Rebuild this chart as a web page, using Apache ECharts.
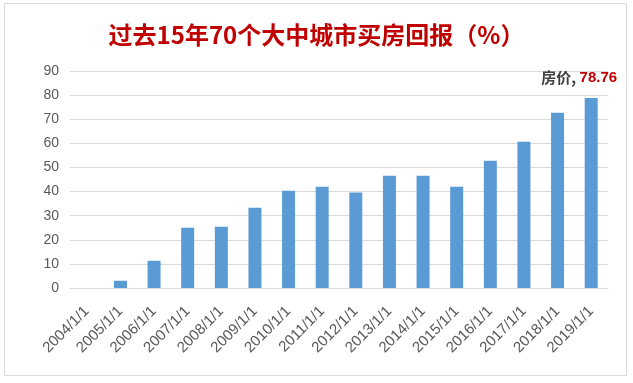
<!DOCTYPE html>
<html><head><meta charset="utf-8">
<script src="https://cdn.jsdelivr.net/npm/echarts@6/dist/echarts.min.js"></script>
<style>html,body{margin:0;padding:0;background:#fff}#c{width:633px;height:383px}</style>
</head><body><div id="c"></div>
<script>
const categories = ['2004/1/1','2005/1/1','2006/1/1','2007/1/1','2008/1/1','2009/1/1','2010/1/1','2011/1/1','2012/1/1','2013/1/1','2014/1/1','2015/1/1','2016/1/1','2017/1/1','2018/1/1','2019/1/1'];
const returns = [null, 3.0, 11.3, 25.0, 25.4, 33.3, 40.3, 42.0, 39.6, 46.6, 46.6, 42.0, 52.8, 60.7, 72.7, 78.76];
const yTicks = [0, 90, 10];
const seriesName = '房价';
const titleText = '过去15年70个大中城市买房回报（%）';

const chart = echarts.init(document.getElementById('c'), null, {renderer:'canvas'});
const lastIdx = returns.length - 1;
const data = returns.map((v, i) => {
  if (i === lastIdx) {
    return {value: v, label: {show: true, position: 'top', distance: 13, offset: [-12, 0],
      formatter: '{a|' + seriesName + ', }{b|' + v + '}',
      rich: {
        a: {color: '#404040', fontSize: 15, fontWeight: 'bold', fontFamily: 'Noto Sans CJK SC'},
        b: {color: '#c00000', fontSize: 15, fontWeight: 'bold', fontFamily: 'Liberation Sans'}
      }}};
  }
  return v;
});
chart.setOption({
  animation: false,
  title: {text: titleText, left: 'center', top: 18,
    textStyle: {color: '#c00000', fontSize: 24, fontWeight: 'bold', fontFamily: 'Noto Sans CJK SC'}},
  graphic: [{type: 'rect', shape: {x: 4.5, y: 3.5, width: 622, height: 372},
    style: {fill: 'none', stroke: '#d9d9d9', lineWidth: 1}, silent: true}],
  grid: {left: 70, right: 25, top: 71, bottom: 95, containLabel: false},
  xAxis: {type: 'category', data: categories, boundaryGap: true,
    axisLine: {lineStyle: {color: '#d9d9d9', width: 1}},
    axisTick: {show: false},
    axisLabel: {rotate: 45, interval: 0, color: '#595959', fontSize: 15, fontFamily: 'Liberation Sans', margin: 21}},
  yAxis: {type: 'value', min: yTicks[0], max: yTicks[1], interval: yTicks[2],
    axisLine: {show: false}, axisTick: {show: false},
    splitLine: {lineStyle: {color: '#d9d9d9', width: 1}},
    axisLabel: {color: '#595959', fontSize: 14, fontFamily: 'Liberation Sans', margin: 11}},
  series: [{name: seriesName, type: 'bar', data: data, barWidth: 13,
    itemStyle: {color: '#5b9bd5'}}]
});
</script></body></html>
